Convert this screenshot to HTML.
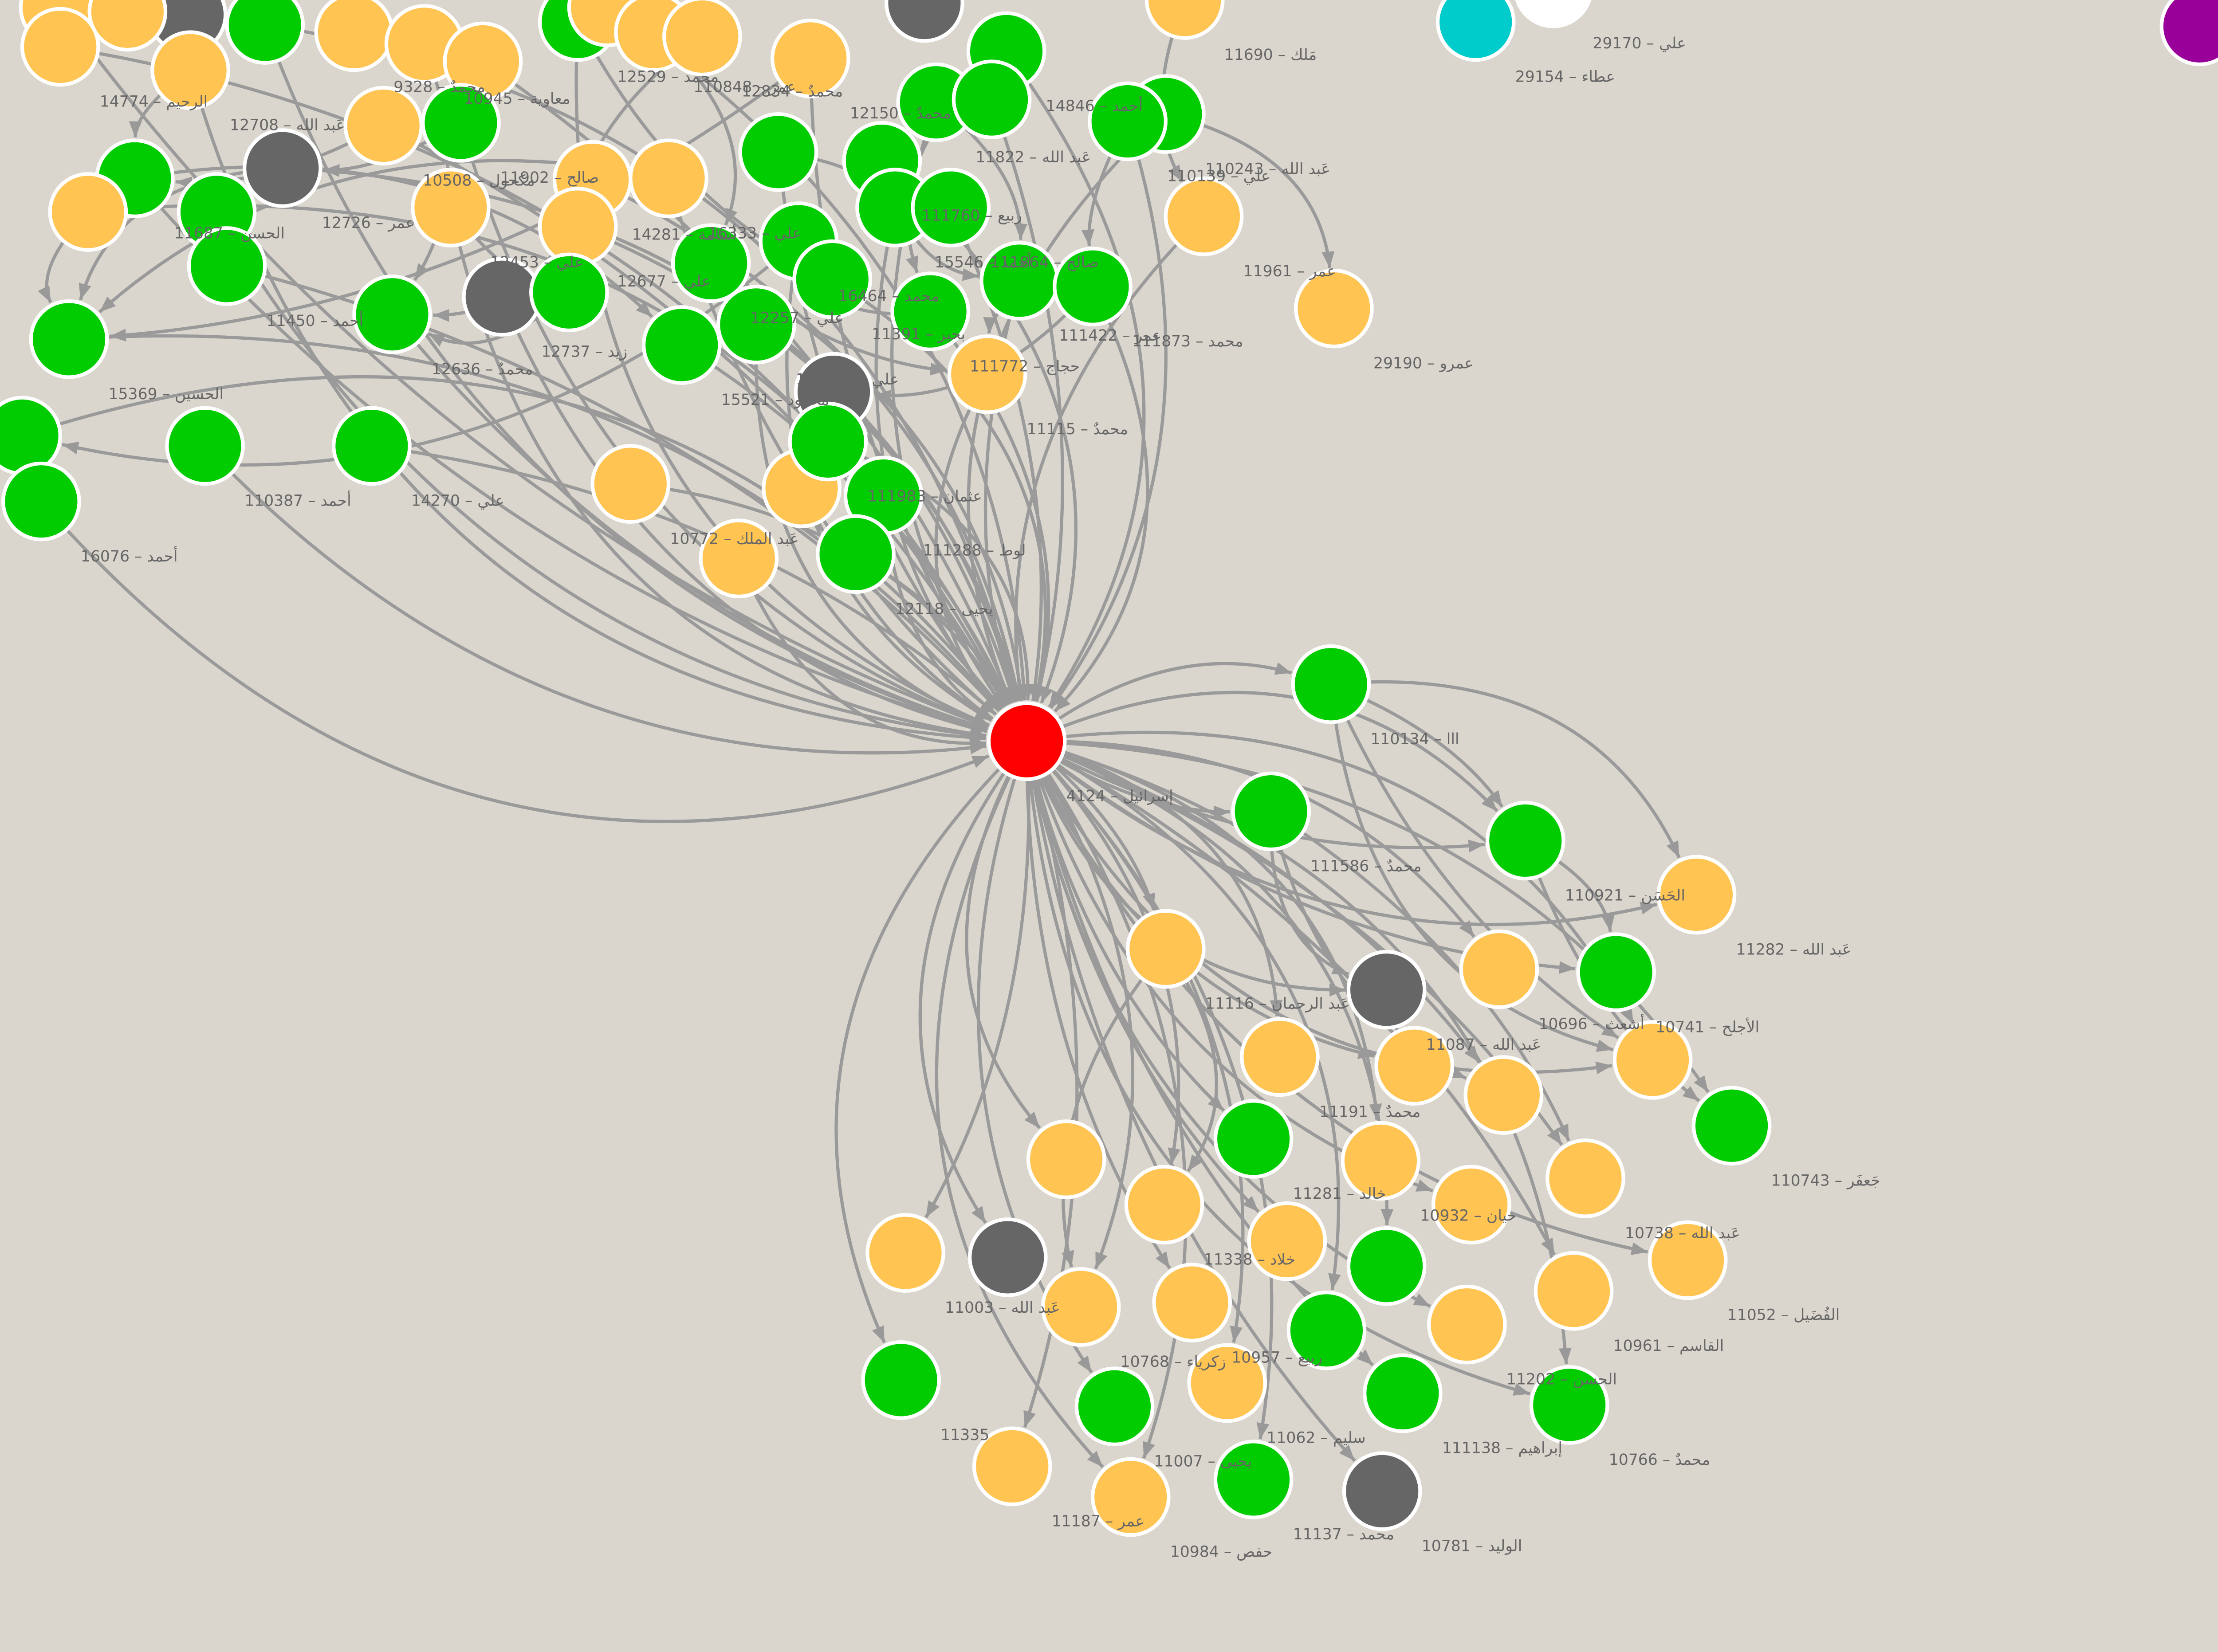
<!DOCTYPE html>
<html><head><meta charset="utf-8"><style>
html,body{margin:0;padding:0;background:#dad6ce;width:5170px;height:3725px;overflow:hidden}
svg{display:block}
text{font-family:"DejaVu Sans","Liberation Sans","Noto Sans CJK SC",sans-serif;font-size:10.5px;fill:#666}
</style></head><body>
<svg id="g" width="5170" height="3725" viewBox="0 0 1568 1130" xmlns="http://www.w3.org/2000/svg">
<defs><marker id="arr" viewBox="0 0 10 10" refX="10" refY="5" markerWidth="5" markerHeight="5" orient="auto" markerUnits="strokeWidth"><path d="M0,1 L10,5 L0,9 z" fill="#999"/></marker></defs>
<rect width="1568" height="1130" fill="#dad6ce"/>
<g id="edges"></g><g id="nodes"></g>
</svg>
<script>
const nodeX=[702,910,869,1043,1160,797,948,1025,1105,875,967,1028,1130,1184,857,944,1006,1084,729,796,880,948,1154,619,689,739,815,907,1003,1076,616,839,959,1073,762,692,773,857,945,
40,128,181,87,242,290,330,395,415,447,480,554,632,688,810,640,678,797,771,41,130,262,315,193,92,60,148,155,308,405,457,395,532,603,612,650,546,486,569,343,389,268,47,466,517,636,697,747,823,912,570,675,15,140,254,28,431,548,566,604,585,505,1009,1504,1062];
const nodeY=[507,468,555,575,612,649,677,663,665,723,729,749,725,770,779,794,824,806,793,824,849,866,862,857,860,894,891,910,906,883,944,946,953,961,962,1003,1024,1012,1020,
5,10,17,8,22,30,42,15,5,22,25,40,2,35,0,70,68,78,83,32,48,86,84,115,122,145,145,182,142,123,122,155,104,110,142,142,165,180,191,203,200,215,232,236,222,213,192,196,148,211,268,256,298,305,305,343,331,334,302,339,379,382,15,18,-8];
const nodeColor=["R","G","G","G","O","O","D","O","G","O","O","O","O","G","G","O","O","O","O","O","O","G","O","O","D","O","O","G","O","O","G","O","G","G","G","O","O","G","D",
"O","D","G","O","O","O","O","G","O","O","O","O","D","G","O","G","G","G","G","O","O","O","G","D","G","O","G","G","O","O","O","O","G","G","G","G","G","G","G","D","G","G","G","G","G","G","G","G","O","O","D","O","G","G","G","G","O","O","G","G","G","O","C","P","W"];
const nodeLabel=["4124 – إسرائيل","110134 – ااا","111586 – محمدٌ","110921 – الحَسَن","11282 – عَبد الله","11116 – عَبد الرحمان","11087 – عَبد الله","10696 – أشعث","10741 – الأجلح","11191 – محمدٌ","","","","110743 – جَعفَر","11281 – خالد","10932 – حيان","","10738 – عَبد الله","","11338 – خلاد","","","11052 – الفُضَيل","11003 – عَبد الله","","10768 – زكرياء","10957 – ربيع","","11202 – الحسن","10961 – القاسم","11335","11062 – سليم","111138 – إبراهيم","10766 – محمدٌ","11007 – يحيى","11187 – عمر","10984 – حفص","11137 – محمد","10781 – الوليد",
"","","","","9328 – محمدٌ","10945 – معاوية","","12529 – محمد","","110848 – عمر","12834 – محمدٌ","12150 – محمدٌ","","14846 – أحمد","11690 – مَلك","11822 – عَبد الله","","110243 – عَبد الله","110139 – علي","14774 – الرحيم","12708 – عَبد الله","10508 – مكحول","11902 – صالح","12726 – عمر","11687 – الحسن","","","11450 – أحمد","12453 – علي","14281 – أسامة","16333 – علي","12677 – علي","","111760 – ربيع","15546 – أحمد","111864 – صالح","16464 – محمد","12257 – علي","11391 – بحير","12737 – زيد","","12636 – محمدٌ","15369 – الحسين","15521 – محمود","112047 – علي","111772 – حجاج","111422 – عمر","111873 – محمد","11961 – عمر","29190 – عمرو","","11115 – محمدٌ","","110387 – أحمد","14270 – علي","16076 – أحمد","10772 – عَبد الملك","","111983 – عثمان","111288 – لوط","12118 – يحيى","","29154 – عطاء","29053","29170 – علي"];
const edgeFrom=[0,0,0,0,0,0,0,0,0,0,0,0,0,0,0,0,0,0,0,0,0,0,0,0,0,0,0,0,0,0,0,0,0,0,0,0,0,0,
91,92,93,94,95,96,97,98,99,100,81,80,77,78,82,83,84,85,86,87,89,90,70,71,72,73,74,75,76,63,64,65,66,67,68,69,62,61,60,59,58,39,40,41,45,46,47,50,52,54,55,56,57,
0,0,0,0,0,0,1,1,2,2,2,3,3,5,5,1,1,
44,46,48,49,50,52,54,57,56,53,61,62,63,67,68,69,71,72,75,76,79,59,60,64,86,85,84];
const edgeTo=[1,2,3,4,5,6,7,8,9,10,11,12,13,14,15,16,17,18,19,20,21,22,23,24,25,26,27,28,29,30,31,32,33,34,35,36,37,38,
0,0,0,0,0,0,0,0,0,0,0,0,0,0,0,0,0,0,0,0,0,0,0,0,0,0,0,0,0,0,0,0,0,0,0,0,0,0,0,0,0,0,0,0,0,0,0,0,0,0,0,0,0,
3,12,22,29,33,36,12,4,11,17,6,8,13,19,25,3,12,
80,77,76,79,81,84,85,86,88,87,62,81,82,79,80,81,73,85,91,90,80,63,63,81,89,90,75];
const fill={R:"#ff0000",G:"#00cc00",O:"#ffc452",D:"#666666",C:"#00cccc",P:"#990099",W:"#ffffff"};
const NS="http://www.w3.org/2000/svg",R=26;
const eg=document.getElementById("edges"),ng=document.getElementById("nodes");
edgeFrom.forEach((f,i)=>{
  const t=edgeTo[i];const x1=nodeX[f],y1=nodeY[f],x2=nodeX[t],y2=nodeY[t];
  const dx=x2-x1,dy=y2-y1,L=Math.hypot(dx,dy)||1;
  const k=(i%3===0?0.25:(i%3===1?0.15:0.35))*(i%2?1:-1);
  const cx=(x1+x2)/2-dy*k,cy=(y1+y2)/2+dx*k;
  let tx=x2-cx,ty=y2-cy,tl=Math.hypot(tx,ty)||1;
  const ex=x2-tx/tl*(R+2),ey=y2-ty/tl*(R+2);
  const p=document.createElementNS(NS,"path");
  p.setAttribute("d",`M${x1},${y1} Q${cx},${cy} ${ex},${ey}`);
  p.setAttribute("fill","none");p.setAttribute("stroke","#9a9a9a");p.setAttribute("stroke-width","2.2");
  p.setAttribute("marker-end","url(#arr)");
  
  
  eg.appendChild(p);
});
nodeX.forEach((x,i)=>{
  const y=nodeY[i];
  const c=document.createElementNS(NS,"circle");
  c.setAttribute("cx",x);c.setAttribute("cy",y);c.setAttribute("r",R);
  c.setAttribute("fill",fill[nodeColor[i]]);c.setAttribute("stroke","#fff");c.setAttribute("stroke-width","2.5");
  
  
  ng.appendChild(c);
});
nodeX.forEach((x,i)=>{
  if(!nodeLabel[i])return;
  const t=document.createElementNS(NS,"text");
  t.setAttribute("x",x+27);t.setAttribute("y",nodeY[i]+41);
  t.textContent=nodeLabel[i];
  
  
  ng.appendChild(t);
});
</script>
</body></html>
